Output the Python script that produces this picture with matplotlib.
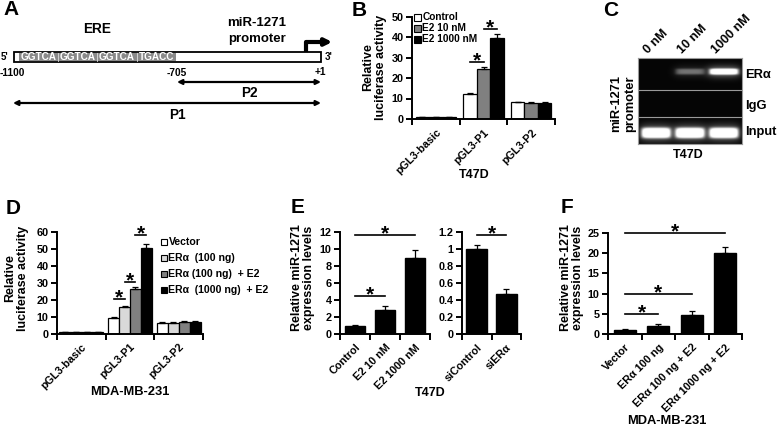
import numpy as np
import matplotlib
matplotlib.use("Agg")
import matplotlib.pyplot as plt
from matplotlib.patches import Rectangle

plt.rcParams["font.family"] = ["Liberation Sans", "DejaVu Sans"]
plt.rcParams["font.weight"] = "bold"
plt.rcParams["axes.labelweight"] = "bold"

# ---- data ----
ere_motifs = ["GGTCA", "GGTCA", "GGTCA", "TGACC"]

b_groups = ["pGL3-basic", "pGL3-P1", "pGL3-P2"]
b_series = ["Control", "E2 10 nM", "E2 1000 nM"]
b_control = [0.8, 12.2, 8.2]
b_e2_10 = [0.8, 24.5, 7.9]
b_e2_1000 = [0.8, 39.5, 8.0]
b_control_err = [0.05, 0.5, 0.3]
b_e2_10_err = [0.1, 1.0, 0.3]
b_e2_1000_err = [0.1, 2.0, 0.4]

c_lanes = ["0 nM", "10 nM", "1000 nM"]
c_rows = ["ERα", "IgG", "Input"]
c_intensity = [[0.0, 0.30, 0.95],
               [0.0, 0.0, 0.0],
               [1.0, 1.0, 1.0]]

d_groups = ["pGL3-basic", "pGL3-P1", "pGL3-P2"]
d_series = ["Vector", "ERα  (100 ng)", "ERα (100 ng)  + E2", "ERα  (1000 ng)  + E2"]
d_vector = [0.8, 9.0, 6.3]
d_era100 = [0.8, 15.5, 6.5]
d_era100_e2 = [0.8, 26.5, 6.8]
d_era1000_e2 = [0.8, 50.5, 7.0]
d_vector_err = [0.05, 0.5, 0.3]
d_era100_err = [0.05, 1.0, 0.3]
d_era100_e2_err = [0.05, 1.2, 0.3]
d_era1000_e2_err = [0.05, 2.5, 0.4]

e_left_labels = ["Control", "E2 10 nM", "E2 1000 nM"]
e_left_vals = [1.0, 2.8, 9.0]
e_left_err = [0.1, 0.55, 0.9]
e_right_labels = ["siControl", "siERα"]
e_right_vals = [1.0, 0.47]
e_right_err = [0.05, 0.06]

f_labels = ["Vector", "ERα 100 ng", "ERα 100 ng + E2", "ERα 1000 ng + E2"]
f_vals = [1.0, 2.0, 4.8, 20.0]
f_err = [0.15, 0.45, 1.0, 1.5]

W, H = 778, 433
TICK = 7.8
LAB = 9
fig = plt.figure(figsize=(W / 100, H / 100), dpi=100)


def px_axes(l, t, r, b):
    return fig.add_axes([l / W, 1 - b / H, (r - l) / W, (b - t) / H])


ov = fig.add_axes([0, 0, 1, 1])
ov.set_xlim(0, W)
ov.set_ylim(H, 0)
ov.axis("off")
ov.set_zorder(5)


def bar_axes(ax, n, ymax, ystep, labels, yfmt=None):
    ax.set_xlim(-0.5, n - 0.5)
    ax.set_ylim(0, ymax)
    ticks = np.arange(0, ymax + ystep / 2, ystep)
    ax.set_yticks(ticks)
    if yfmt:
        ax.set_yticklabels([yfmt(t) for t in ticks])
    ax.set_xticks(np.arange(-0.5, n, 1.0))
    ax.set_xticklabels([])
    ax.set_xticks(range(n), minor=True)
    ax.set_xticklabels(labels, minor=True, rotation=45, ha="right",
                       rotation_mode="anchor", fontsize=TICK)
    ax.tick_params(axis="x", which="minor", length=0, pad=6)
    ax.tick_params(axis="x", which="major", direction="out", length=4, width=1.4)
    ax.tick_params(axis="y", direction="out", length=4, width=1.4, labelsize=TICK, pad=2)
    for s in ["top", "right"]:
        ax.spines[s].set_visible(False)
    for s in ["left", "bottom"]:
        ax.spines[s].set_linewidth(1.4)
    ax.patch.set_alpha(0)


def sig(ax, x1, x2, y, size=15):
    ax.plot([x1, x2], [y, y], color="k", lw=1.2, clip_on=False)
    ax.annotate("*", xy=((x1 + x2) / 2, y), xytext=(0, -6), textcoords="offset points",
                ha="center", va="bottom", fontsize=size, annotation_clip=False)


def ebar(ax, x, v, e):
    ax.errorbar(x, v, yerr=[np.zeros(len(v)), e], fmt="none", ecolor="k",
                elinewidth=0.9, capsize=2.2, capthick=0.9)


def px_legend(x, ys, labels, colors, size, fs):
    for y, lab, col in zip(ys, labels, colors):
        ov.add_patch(Rectangle((x, y - size / 2), size, size, facecolor=col,
                               edgecolor="k", lw=0.8))
        ov.text(x + size + 1.5, y, lab, fontsize=fs, ha="left", va="center")


# ---- panel letters ----
for letter, (x, y) in {"A": (3, 0), "B": (352, 1), "C": (603, 1),
                       "D": (6, 199), "E": (291, 198), "F": (561, 198)}.items():
    ov.text(x, y, letter, fontsize=15, ha="left", va="top")

# ---- panel A ----
ov.text(97, 29, "ERE", fontsize=9.8, ha="center", va="center")
ov.text(257, 23, "miR-1271", fontsize=9.5, ha="center", va="center")
ov.text(257, 39, "promoter", fontsize=9.5, ha="center", va="center")
ov.add_patch(Rectangle((14, 52), 307, 10, facecolor="white", edgecolor="k", lw=1.3))
ov.add_patch(Rectangle((19, 52.8), 157, 8.4, facecolor="#8a8a8a", edgecolor="none"))
seg_w = 157 / len(ere_motifs)
for i, m in enumerate(ere_motifs):
    ov.text(19 + seg_w * (i + 0.5), 57.3, m, color="white", fontsize=7.2, ha="center",
            va="center")
    if i > 0:
        ov.plot([19 + seg_w * i] * 2, [52.8, 61.2], color="#e0e0e0", lw=0.6)
ov.text(1, 57.5, "5'", fontsize=7, ha="left", va="center")
ov.text(325, 57, "3'", fontsize=7, ha="left", va="center")
ov.text(0, 73, "-1100", fontsize=7.3, ha="left", va="center")
ov.text(177, 73, "-705", fontsize=7.3, ha="center", va="center")
ov.text(320, 72, "+1", fontsize=7.3, ha="center", va="center")
ov.plot([306, 306, 324], [52, 42, 42], color="k", lw=3, solid_joinstyle="round",
        solid_capstyle="butt")
ov.annotate("", xy=(335, 42), xytext=(320, 42),
            arrowprops=dict(arrowstyle="-|>", color="k", lw=3, mutation_scale=10))
ov.annotate("", xy=(177, 82), xytext=(321, 82),
            arrowprops=dict(arrowstyle="<|-|>", color="k", lw=1.6, mutation_scale=7,
                            shrinkA=0, shrinkB=0))
ov.annotate("", xy=(13, 103), xytext=(321, 103),
            arrowprops=dict(arrowstyle="<|-|>", color="k", lw=1.6, mutation_scale=7,
                            shrinkA=0, shrinkB=0))
ov.text(249, 93, "P2", fontsize=9.8, ha="center", va="center")
ov.text(177, 115, "P1", fontsize=9.8, ha="center", va="center")

# ---- panel B ----
axb = px_axes(412, 16.5, 555, 119)
bar_axes(axb, 3, 50, 10, b_groups)
xb = np.arange(3)
bw = 0.28
b_vals = [b_control, b_e2_10, b_e2_1000]
b_errs = [b_control_err, b_e2_10_err, b_e2_1000_err]
b_cols = ["white", "#808080", "black"]
for k in range(3):
    axb.bar(xb + (k - 1) * bw, b_vals[k], bw, color=b_cols[k], edgecolor="k", lw=0.9)
    ebar(axb, xb + (k - 1) * bw, b_vals[k], b_errs[k])
px_legend(414, [17, 28, 39], b_series, b_cols, 7, 7.3)
sig(axb, 1 - bw, 1, 28)
sig(axb, 1, 1 + bw, 43.7)
ov.text(375, 67, "Relative\nluciferase activity", rotation=90, fontsize=LAB,
        ha="center", va="center", linespacing=1.1)
ov.text(474, 175, "T47D", fontsize=LAB, ha="center", va="center")

# ---- panel C ----
gw, gh = 104, 86
axc = px_axes(638, 58, 638 + gw, 58 + gh)
xs = np.linspace(0, gw, gw * 4)
ys = np.linspace(0, gh, gh * 4)
X, Y = np.meshgrid(xs, ys)
img = np.full(X.shape, 0.02)
lane_x = [18, 52, 86]
row_y = [13.5, 45, 75]
row_hh = [3.0, 3.2, 5.2]
for j in range(len(c_rows)):
    for i in range(len(c_lanes)):
        inten = c_intensity[j][i]
        if inten == 0:
            continue
        dx = np.abs(X - lane_x[i])
        dy = np.abs(Y - row_y[j])
        core = np.exp(-(dx / 14.5) ** 8) * np.exp(-(dy / row_hh[j]) ** 4)
        glow = np.exp(-(dx / 17) ** 4) * np.exp(-(dy / (row_hh[j] + 3)) ** 2) * 0.45
        img += inten * (core + glow)
img = np.clip(img, 0, 1)
axc.imshow(img, cmap="gray", vmin=0, vmax=1, extent=(0, gw, gh, 0), aspect="auto",
           interpolation="bilinear")
axc.set_xlim(0, gw)
axc.set_ylim(gh, 0)
axc.set_xticks([])
axc.set_yticks([])
for s in axc.spines.values():
    s.set_color("#9a9a9a")
    s.set_linewidth(0.8)
for yy in [32, 59]:
    axc.axhline(yy, color="#9a9a9a", lw=0.8)
for i, lab in enumerate(c_lanes):
    axc.text(lane_x[i] - 6, -2, lab, rotation=45, ha="left", va="bottom",
             rotation_mode="anchor", fontsize=9, clip_on=False)
for j, lab in enumerate(c_rows):
    axc.text(gw + 3, [17, 48, 74][j], lab, ha="left", va="center", fontsize=9.3,
             clip_on=False)
ov.text(623, 104, "miR-1271\npromoter", rotation=90, fontsize=9.3, ha="center",
        va="center", linespacing=1.15)
ov.text(688, 155, "T47D", fontsize=LAB, ha="center", va="center")

# ---- panel D ----
axd = px_axes(57, 232, 203, 333.5)
bar_axes(axd, 3, 60, 10, d_groups)
xd = np.arange(3)
dw = 0.226
d_vals = [d_vector, d_era100, d_era100_e2, d_era1000_e2]
d_errs = [d_vector_err, d_era100_err, d_era100_e2_err, d_era1000_e2_err]
d_cols = ["white", "#d9d9d9", "#808080", "black"]
for k in range(4):
    axd.bar(xd + (k - 1.5) * dw, d_vals[k], dw, color=d_cols[k], edgecolor="k", lw=0.9)
    ebar(axd, xd + (k - 1.5) * dw, d_vals[k], d_errs[k])
px_legend(161, [242, 258, 274, 290], d_series, d_cols, 6, 7.6)
sig(axd, 1 - 1.5 * dw, 1 - 0.5 * dw, 20.5)
sig(axd, 1 - 0.5 * dw, 1 + 0.5 * dw, 30.7)
sig(axd, 1 + 0.5 * dw, 1 + 1.5 * dw, 58)
ov.text(17, 278, "Relative\nluciferase activity", rotation=90, fontsize=LAB,
        ha="center", va="center", linespacing=1.1)
ov.text(130, 392, "MDA-MB-231", fontsize=9.3, ha="center", va="center")

# ---- panel E ----
axe1 = px_axes(340, 232, 430, 334)
bar_axes(axe1, 3, 12, 2, e_left_labels)
axe1.bar(range(3), e_left_vals, 0.67, color="black", edgecolor="k")
ebar(axe1, np.arange(3), e_left_vals, e_left_err)
sig(axe1, 0, 2, 11.6)
sig(axe1, 0, 1, 4.5)

axe2 = px_axes(462, 232, 521, 334)
bar_axes(axe2, 2, 1.2, 0.2, e_right_labels, yfmt=lambda t: f"{t:g}")
axe2.bar(range(2), e_right_vals, 0.7, color="black", edgecolor="k")
ebar(axe2, np.arange(2), e_right_vals, e_right_err)
sig(axe2, 0, 1, 1.165)
ov.text(303, 278, "Relative miR-1271\nexpression levels", rotation=90, fontsize=LAB,
        ha="center", va="center", linespacing=1.1)
ov.text(430, 393, "T47D", fontsize=LAB, ha="center", va="center")

# ---- panel F ----
axf = px_axes(608, 233, 742, 334)
bar_axes(axf, 4, 25, 5, f_labels)
axf.bar(range(4), f_vals, 0.66, color="black", edgecolor="k")
ebar(axf, np.arange(4), f_vals, f_err)
sig(axf, 0, 3, 25)
sig(axf, 0, 2, 9.9)
sig(axf, 0, 1, 4.95)
ov.text(572, 278, "Relative miR-1271\nexpression levels", rotation=90, fontsize=LAB,
        ha="center", va="center", linespacing=1.1)
ov.text(667, 421, "MDA-MB-231", fontsize=9.3, ha="center", va="center")

fig.savefig("out.png", dpi=100)
